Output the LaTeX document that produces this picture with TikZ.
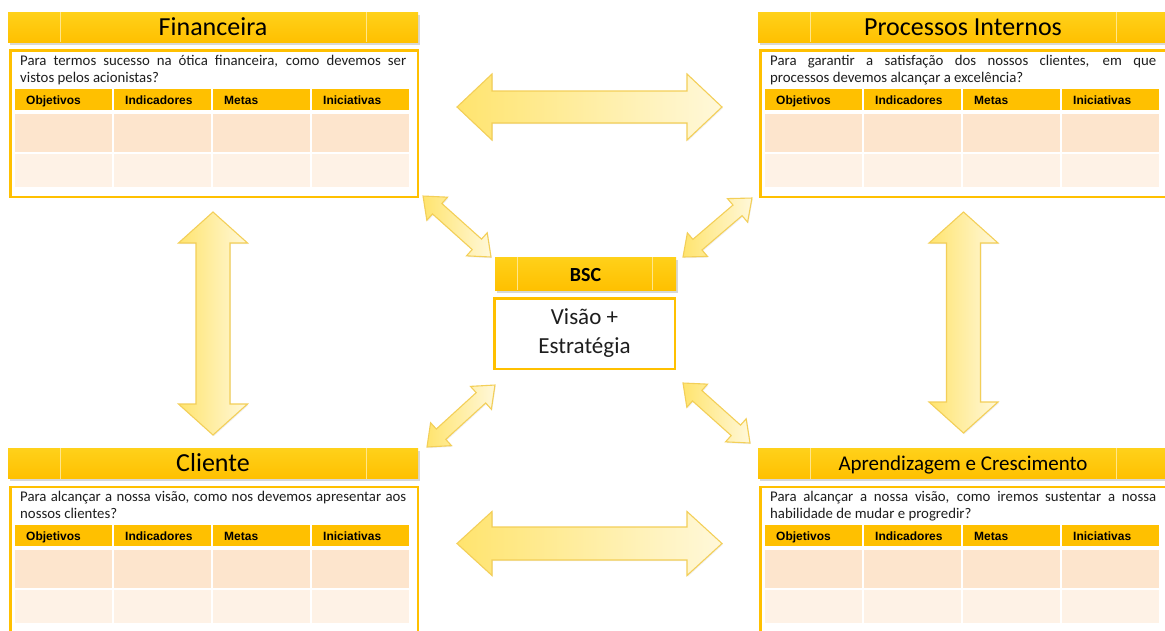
\documentclass[tikz,border=0pt]{standalone}
\usepackage{fontspec}
\setmainfont{Carlito}
\newfontfamily\headfont{Liberation Sans}
\usetikzlibrary{shadows}

\definecolor{gold}{HTML}{FFC000}
\definecolor{goldtop}{HTML}{FFD11A}
\definecolor{barlight}{HTML}{FFE68C}
\definecolor{rowA}{HTML}{FDE5CD}
\definecolor{rowB}{HTML}{FEF2E6}
\definecolor{arrowdark}{HTML}{FFE46E}
\definecolor{arrowlight}{HTML}{FFF8DA}
\definecolor{arrowedge}{HTML}{F3CF58}
\definecolor{ink}{HTML}{1E1E1E}

\tikzset{
  titlebar/.style={top color=goldtop, bottom color=gold, draw=none, inner sep=0pt,
    drop shadow={shadow xshift=1.5pt, shadow yshift=-2.5pt, opacity=0.3}},
  barline/.style={draw=barlight, line width=0.9pt},
  titletext/.style={text=black, inner sep=0pt},
  panelbox/.style={draw=gold, line width=2.5pt, fill=white, inner sep=0pt},
  question/.style={text=ink, inner sep=0pt, font=\fontsize{14.8}{16.8}\selectfont},
  cellhead/.style={fill=gold, inner sep=0pt},
  cellA/.style={fill=rowA, inner sep=0pt},
  cellB/.style={fill=rowB, inner sep=0pt},
  collabel/.style={font=\headfont\bfseries\fontsize{12}{14}\selectfont, text=black, inner sep=0pt},
  blockarrow/.style={draw=arrowedge, line width=1.1pt, line join=miter,
    left color=arrowdark, right color=arrowlight,
    drop shadow={shadow xshift=0.8pt, shadow yshift=-1.2pt, opacity=0.12}},
}

% two-line question: the first line is stretched to the full width, the second is left-aligned
\newcommand\twolines[2]{\vbox{\hsize=386pt\baselineskip=16.8pt
  \hbox to \hsize{#1}\hbox{#2}}}

% One perspective panel: title bar, question and the four-column table
% #1 name, #2 x, #3 y, #4 title size, #5 title, #6 #7 question lines
\newcommand\bscpanel[7]{%
  \begin{scope}[shift={(#2,#3)}]
    \node[titlebar, anchor=north west, minimum width=410pt, minimum height=30pt] (#1-bar) at (0,0) {};
    \draw[barline] ([xshift=52pt]#1-bar.north west) -- ([xshift=52pt]#1-bar.south west);
    \draw[barline] ([xshift=358pt]#1-bar.north west) -- ([xshift=358pt]#1-bar.south west);
    \node[titletext, anchor=base, font=\fontsize{#4}{#4}\selectfont] (#1-title) at (205,{15+0.32*#4}) {#5};
    \node[panelbox, anchor=north west, minimum width=407.5pt, minimum height=146.5pt] (#1-box) at (1.25,37.25) {};
    \node[question, anchor=base west] (#1-q) at (12,70.3) {\twolines{#6}{#7}};
    \foreach \i/\lab in {0/Objetivos,1/Indicadores,2/Metas,3/Iniciativas}{
      \node[cellhead, anchor=north west, minimum width=97pt, minimum height=21pt] (#1-h\i) at (7+99*\i,76.3) {};
      \node[collabel, anchor=base west] (#1-l\i) at (18+99*\i,92.5) {\lab};
      \node[cellA, anchor=north west, minimum width=97pt, minimum height=38.4pt] (#1-a\i) at (7+99*\i,101.3) {};
      \node[cellB, anchor=north west, minimum width=97pt, minimum height=33.4pt] (#1-b\i) at (7+99*\i,141.3) {};
    }
  \end{scope}}

% Double-headed block arrow between two named ends
% #1 name, #2 #3 first end, #4 #5 second end, #6 head length, #7 half head width, #8 half shaft width
\newcommand\dblarrow[8]{%
  \coordinate (#1-a) at (#2,#3);
  \coordinate (#1-b) at (#4,#5);
  \pgfmathsetmacro\arlen{veclen(#4-#2,#5-#3)}%
  \pgfmathsetmacro\arang{atan2(#3-#5,#4-#2)}%
  \begin{scope}[shift={(#1-a)}, rotate=\arang]
    \path[blockarrow] (0,0) -- (#6,#7) -- (#6,#8) -- ({\arlen-#6},#8) -- ({\arlen-#6},#7)
      -- (\arlen,0) -- ({\arlen-#6},-#7) -- ({\arlen-#6},-#8) -- (#6,-#8) -- (#6,-#7) -- cycle;
  \end{scope}}

\begin{document}
\begin{tikzpicture}[x=1pt, y=-1pt]
  \useasboundingbox[fill=white] (0,0) rectangle (1165,630);
  \clip (0,0) rectangle (1165,630);

  \bscpanel{fin}{8}{12}{26}{Financeira}
    {Para termos sucesso na ótica financeira, como devemos ser}{vistos pelos acionistas?}
  \bscpanel{proc}{758}{12}{26}{Processos Internos}
    {Para garantir a satisfação dos nossos clientes, em que}{processos devemos alcançar a excelência?}
  \bscpanel{cli}{8}{448.3}{26}{Cliente}
    {Para alcançar a nossa visão, como nos devemos apresentar aos}{nossos clientes?}
  \bscpanel{apr}{758}{448.3}{21}{Aprendizagem e Crescimento}
    {Para alcançar a nossa visão, como iremos sustentar a nossa}{habilidade de mudar e progredir?}

  % central block
  \node[titlebar, minimum width=181pt, minimum height=33pt] (bsc-bar) at (585.5,273.5) {};
  \draw[barline] ([xshift=23pt]bsc-bar.north west) -- ([xshift=23pt]bsc-bar.south west);
  \draw[barline] ([xshift=158pt]bsc-bar.north west) -- ([xshift=158pt]bsc-bar.south west);
  \node[titletext, anchor=base, font=\bfseries\fontsize{20}{20}\selectfont] (bsc-title) at (585.5,281) {BSC};
  \node[panelbox, minimum width=180.5pt, minimum height=70.5pt] (bsc-box) at (584.5,333.5) {};
  \node[align=center, inner sep=0pt, text=ink, font=\fontsize{23}{29}\selectfont] (bsc-text) at (584.5,333.5) {Visão +\\Estratégia};

  % arrows between the perspectives
  \dblarrow{atop}{457}{107}{722}{107}{35}{33}{16}
  \dblarrow{abot}{457}{543.5}{722}{543.5}{35}{32}{16.5}
  \dblarrow{aleft}{213}{435}{213}{212}{31}{34.5}{17}
  \dblarrow{aright}{963.5}{433}{963.5}{212}{31}{34.5}{17}
  % arrows towards the centre
  \dblarrow{dtl}{491}{257}{423}{196}{19}{15.5}{7}
  \dblarrow{dtr}{683}{257}{752}{198}{19}{15.5}{7}
  \dblarrow{dbl}{427}{447}{495}{385}{19}{15.5}{7}
  \dblarrow{dbr}{750}{443}{683}{383}{19}{15.5}{7}
\end{tikzpicture}
\end{document}
